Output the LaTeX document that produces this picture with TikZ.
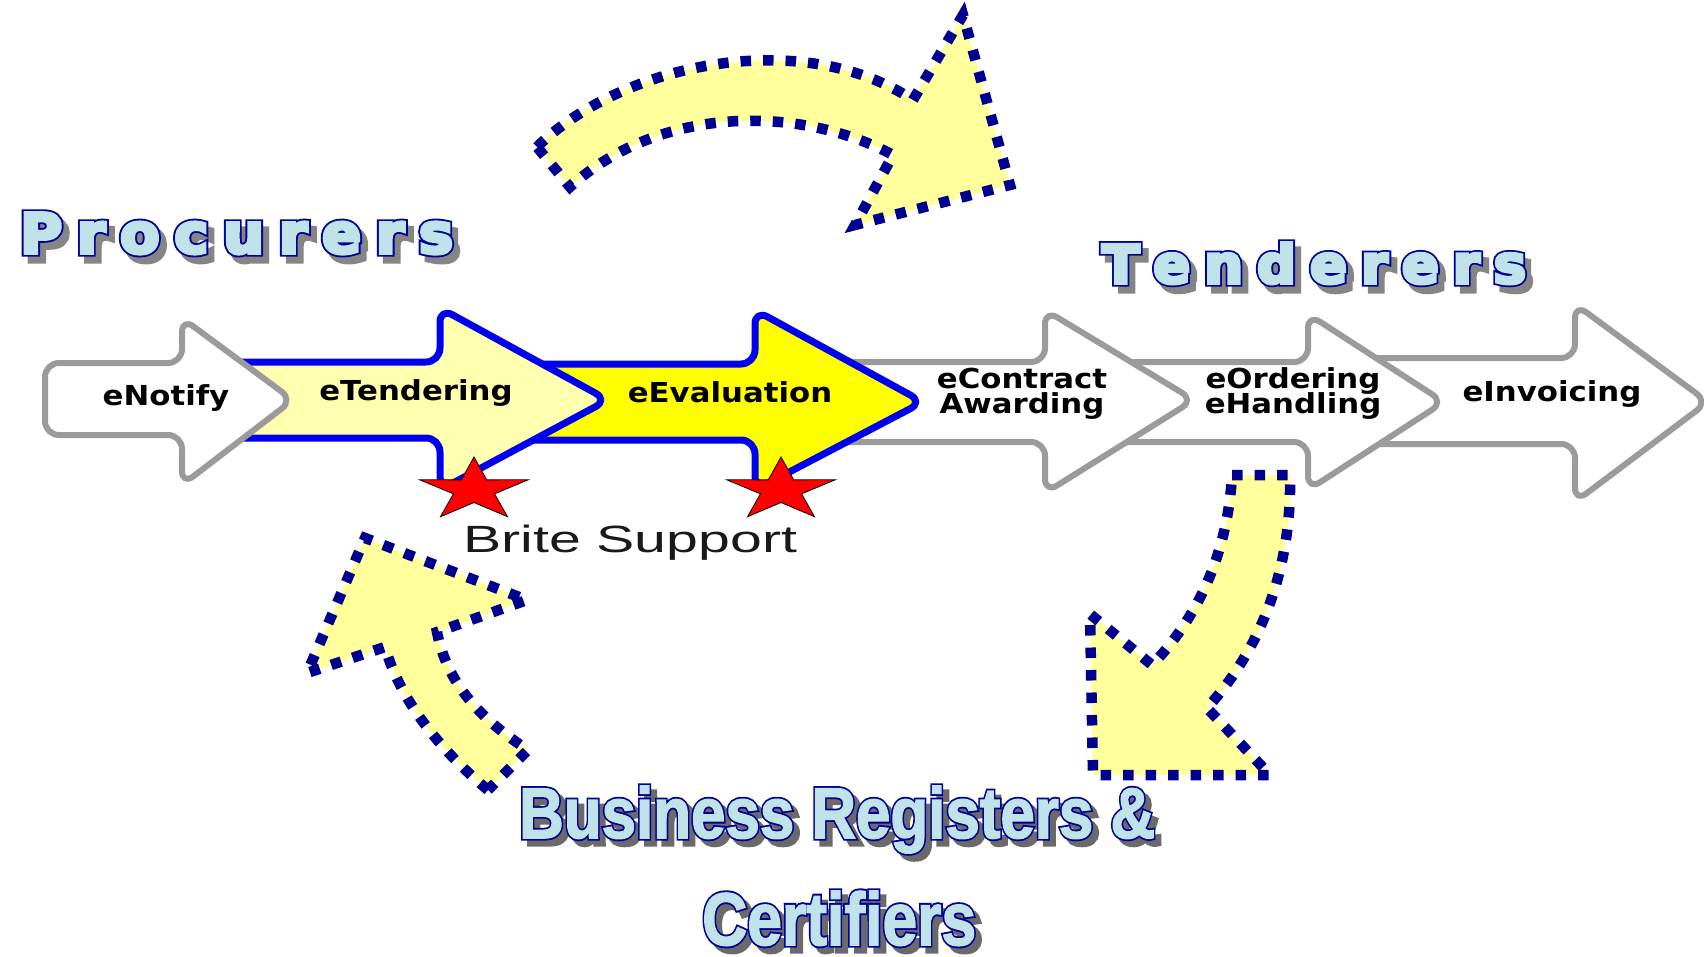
\documentclass[tikz,border=0pt]{standalone}
\usepackage{fontspec}
\usepackage{graphicx}
\usetikzlibrary{shapes.geometric}
\newfontfamily\procfont[FakeStretch=1.12]{DejaVu Sans}
\newfontfamily\britefont{Liberation Sans}
\newfontfamily\titlefont{DejaVu Sans}
\newfontfamily\bizfont{Liberation Sans}
\newcommand\lsp{\kern0.26em}
\definecolor{navyd}{HTML}{000090}
\definecolor{paleyel}{HTML}{FFFF9C}
\definecolor{ltyel}{HTML}{FFFFB0}
\definecolor{brightyel}{HTML}{FFFF00}
\definecolor{pblue}{HTML}{0000F0}
\definecolor{pgrey}{HTML}{9B9B9B}
\definecolor{ttlcolfill}{HTML}{BFE3E8}
\definecolor{ttlcoledge}{HTML}{000099}
\definecolor{ttlcolshadowA}{HTML}{858585}
\definecolor{ttlcolshadowB}{HTML}{6A6A6A}
% stroked text: fill + stroke (text render mode 2) in a given RGB and width
\newcommand\strk[3]{\special{pdf:code #1 RG #2 w 2 Tr}#3\special{pdf:code 0 Tr}}
\newcommand\proctxt{P\lsp r\lsp o\lsp c\lsp u\lsp r\lsp e\lsp r\lsp s}
\newcommand\tendtxt{T\lsp e\lsp n\lsp d\lsp e\lsp r\lsp e\lsp r\lsp s}
\newcommand\procbox[1]{\resizebox{433pt}{40pt}{\titlefont\bfseries\fontsize{60}{60}\selectfont #1}}
\newcommand\tendbox[1]{\resizebox{424pt}{40pt}{\titlefont\bfseries\fontsize{60}{60}\selectfont #1}}
\newcommand\bizbox[1]{\resizebox{636pt}{52pt}{\bizfont\bfseries\fontsize{70}{70}\selectfont #1}}
\newcommand\certbox[1]{\resizebox{274pt}{54pt}{\bizfont\bfseries\fontsize{70}{70}\selectfont #1}}
\tikzset{
  procgrey/.style={draw=pgrey, line width=6pt, fill=white, rounded corners=14pt, line join=round},
  procblue/.style={draw=pblue, line width=7pt, rounded corners=14pt, line join=round},
  dotarrow/.style={fill=paleyel, draw=navyd, line width=10.5pt, dash pattern=on 10.5pt off 12pt},
  plabel/.style={font={\procfont\bfseries\fontsize{27.5}{27.5}\selectfont}, inner sep=0pt, anchor=base, text=black},
  starsty/.style={fill=red, draw=black, line width=0.8pt, line join=miter},
  ttlshade/.style={inner sep=0pt, anchor=base west, text=ttlcolshadowA},
  ttlshadeB/.style={inner sep=0pt, anchor=base west, text=ttlcolshadowB},
  ttledge/.style={inner sep=0pt, anchor=base west, text=ttlcoledge},
  ttlfill/.style={inner sep=0pt, anchor=base west, text=ttlcolfill},
}
\begin{document}
\begin{tikzpicture}[x=1pt,y=-1pt]
\path[use as bounding box, fill=white] (0,0) rectangle (1704,957);

% ---- process chain (drawn right to left) ----
\draw[procgrey] (1340,358) -- (1575,358) -- (1575,304) -- (1708,402) -- (1575,502) -- (1575,444) -- (1340,444) -- cycle;
\draw[procgrey] (1090,362) -- (1308,362) -- (1308,314) -- (1444,402) -- (1308,490) -- (1308,442) -- (1090,442) -- cycle;
\draw[procgrey] (800,362) -- (1045,362) -- (1045,310) -- (1194,400) -- (1045,493) -- (1045,442) -- (800,442) -- cycle;
\draw[procblue, fill=brightyel] (500,364) -- (755,364) -- (755,310) -- (923,402) -- (755,490) -- (755,440) -- (500,440) -- cycle;
\draw[procblue, fill=ltyel] (215,362) -- (440,362) -- (440,308) -- (608,400) -- (440,490) -- (440,438) -- (215,438) -- cycle;
\draw[procgrey] (45,363) -- (182,363) -- (182,318) -- (293,400) -- (182,485) -- (182,435) -- (45,435) -- cycle;

\node[plabel] (notify) at (166,405) {eNotify};
\node[plabel] (tendering) at (416,400) {eTendering};
\node[plabel] (evaluation) at (730,402) {eEvaluation};
\node[plabel] (contract1) at (1022,388) {eContract};
\node[plabel] (contract2) at (1022,413) {Awarding};
\node[plabel] (ordering1) at (1293,388) {eOrdering};
\node[plabel] (ordering2) at (1293,413) {eHandling};
\node[plabel] (invoicing) at (1552,401) {eInvoicing};

% ---- stars ----
\begin{scope}[shift={(474,490)}, x=57pt, y=-33pt]
\draw[starsty] (0,-1) -- (0.223,-0.307) -- (0.951,-0.309) -- (0.361,0.117) -- (0.588,0.809) -- (0,0.38) -- (-0.588,0.809) -- (-0.361,0.117) -- (-0.951,-0.309) -- (-0.223,-0.307) -- cycle;
\end{scope}
\begin{scope}[shift={(781,490)}, x=57pt, y=-33pt]
\draw[starsty] (0,-1) -- (0.223,-0.307) -- (0.951,-0.309) -- (0.361,0.117) -- (0.588,0.809) -- (0,0.38) -- (-0.588,0.809) -- (-0.361,0.117) -- (-0.951,-0.309) -- (-0.223,-0.307) -- cycle;
\end{scope}

\node[inner sep=0pt, anchor=base west, text=black!90] (brite) at (463,552)
  {\resizebox{334pt}{27.5pt}{\britefont\fontsize{38}{38}\selectfont Brite Support}};

% ---- curved dotted block arrows ----
\draw[dotarrow] (537,147) .. controls (620,65) and (800,25) .. (913,100) -- (963,15) -- (1010,185) -- (855,225) -- (893,155) .. controls (800,105) and (660,105) .. (570,187) -- cycle;
\draw[dotarrow] (488,790) .. controls (440,750) and (400,700) .. (385,647) -- (307,673) -- (365,538) -- (527,600) -- (437,632) .. controls (448,690) and (490,725) .. (528,750) -- cycle;
\draw[dotarrow] (1232,475) -- (1290,475) .. controls (1292,570) and (1260,650) .. (1207,708) -- (1270,775) -- (1093,775) -- (1090,614) -- (1152,665) .. controls (1200,615) and (1228,550) .. (1232,475) -- cycle;

% ---- titles: shadow, dark edge, light fill ----
\node[ttlshade] (procS) at (26,260) {\procbox{\strk{0.522 0.522 0.522}{8}{\proctxt}}};
\node[ttledge] (procE) at (20,253) {\procbox{\strk{0 0 0.6}{8}{\proctxt}}};
\node[ttlfill] (procurers) at (20,253) {\procbox{\strk{0.749 0.89 0.91}{4}{\proctxt}}};

\node[ttlshade] (tendS) at (1108,290) {\tendbox{\strk{0.522 0.522 0.522}{8}{\tendtxt}}};
\node[ttledge] (tendE) at (1102,283) {\tendbox{\strk{0 0 0.6}{8}{\tendtxt}}};
\node[ttlfill] (tenderers) at (1102,283) {\tendbox{\strk{0.749 0.89 0.91}{4}{\tendtxt}}};

\node[ttlshadeB] (bizS) at (525,844) {\bizbox{\strk{0.416 0.416 0.416}{5}{Business Registers \&}}};
\node[ttledge] (bizE) at (519,838) {\bizbox{\strk{0 0 0.6}{5}{Business Registers \&}}};
\node[ttlfill] (business) at (519,838) {\bizbox{\strk{0.749 0.89 0.91}{1.5}{Business Registers \&}}};

\node[ttlshadeB] (certS) at (708,951) {\certbox{\strk{0.416 0.416 0.416}{5}{Certifiers}}};
\node[ttledge] (certE) at (702,945) {\certbox{\strk{0 0 0.6}{5}{Certifiers}}};
\node[ttlfill] (certifiers) at (702,945) {\certbox{\strk{0.749 0.89 0.91}{1.5}{Certifiers}}};
\end{tikzpicture}
\end{document}
